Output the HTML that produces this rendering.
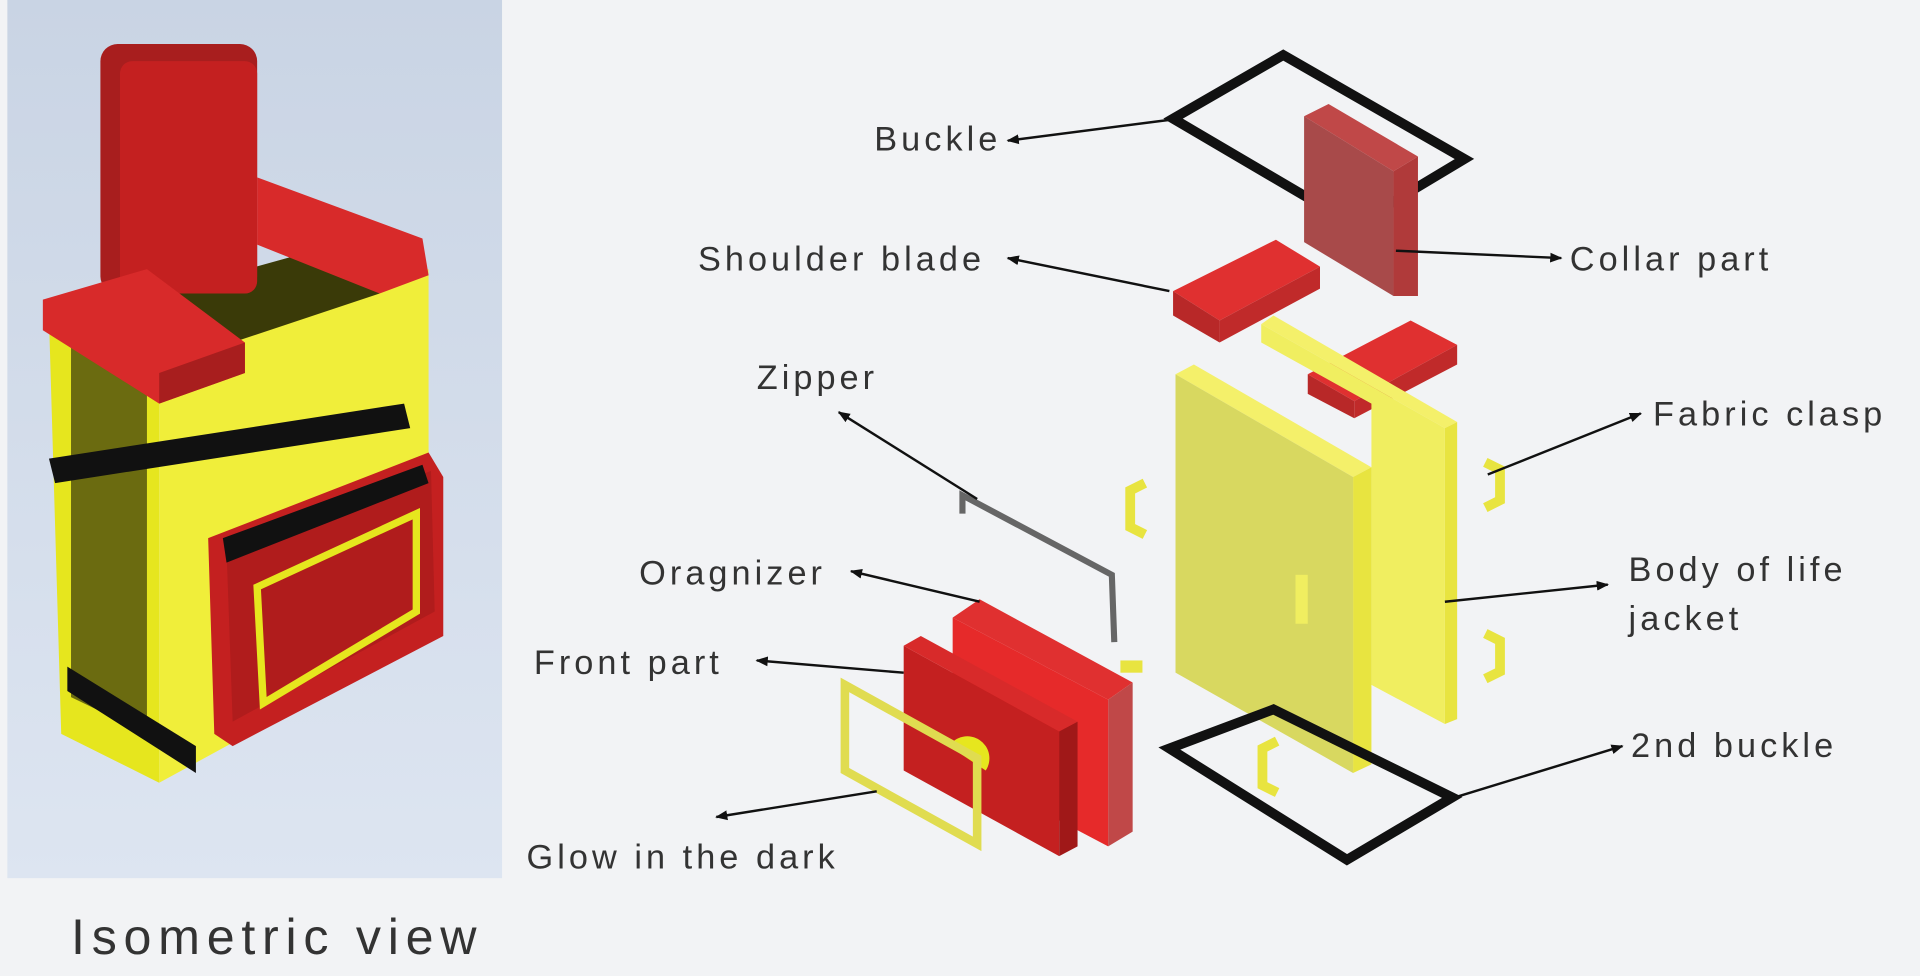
<!DOCTYPE html>
<html><head><style>
html,body{margin:0;padding:0;width:1920px;height:976px;overflow:hidden;background:#f2f3f5}
svg{display:block}
text{font-family:"Liberation Sans",sans-serif;fill:#333;letter-spacing:3.3px}
</style></head><body>
<svg width="1920" height="976" viewBox="0 0 1568 798" preserveAspectRatio="none">
<defs>
<linearGradient id="bg" x1="0" y1="0" x2="0" y2="1"><stop offset="0" stop-color="#c9d4e4"/><stop offset="1" stop-color="#dde5f1"/></linearGradient>
<marker id="ar" markerWidth="10" markerHeight="10" refX="9" refY="5" orient="auto" markerUnits="userSpaceOnUse"><path d="M0,1 L10,5 L0,9 z" fill="#111"/></marker>
</defs>
<rect x="0" y="0" width="1568" height="798" fill="#f2f3f5"/>
<rect x="6" y="0" width="404" height="718" fill="url(#bg)"/>
<!-- left isometric -->
<polygon points="40,260 130,300 130,640 50,600" fill="#e6e61e"/>
<polygon points="58,270 120,300 120,600 58,570" fill="#6b6b10"/>
<polygon points="130,300 350,220 350,520 130,640" fill="#f0ee3a"/>
<polygon points="130,240 310,190 310,240 130,300" fill="#3a3a08"/>
<rect x="82" y="36" width="128" height="204" rx="14" fill="#a81e1e"/>
<rect x="98" y="50" width="112" height="190" rx="10" fill="#c42020"/>
<polygon points="210,145 345,195 350,225 310,240 210,200" fill="#d82a2a"/>
<polygon points="35,245 120,220 200,280 200,305 130,330 35,270" fill="#d82a2a"/>
<polygon points="130,305 200,280 200,305 130,330" fill="#a81e1e"/>
<polygon points="40,375 330,330 335,350 45,395" fill="#111"/>
<polygon points="55,545 160,610 160,632 55,565" fill="#111"/>
<polygon points="170,440 350,370 362,390 362,520 190,610 175,600" fill="#c42020"/>
<polygon points="185,450 352,385 355,500 190,590" fill="#b01c1c"/>
<polygon points="210,480 340,420 340,500 215,575" fill="none" stroke="#e6e61e" stroke-width="6"/>
<polygon points="182,440 345,380 350,395 185,460" fill="#111"/>
<text x="58" y="780" font-size="41" style="letter-spacing:5.5px">Isometric view</text>
<!-- top buckle -->
<polygon points="958,97 1048,45 1196,130 1106,184" fill="none" stroke="#111" stroke-width="8"/>
<!-- collar -->
<polygon points="1065,95 1085,85 1158,128 1138,140" fill="#c04848"/>
<polygon points="1138,140 1158,128 1158,242 1138,242" fill="#b03a3a"/>
<polygon points="1065,95 1138,140 1138,242 1065,198" fill="#a84a4a"/>
<!-- shoulder blades -->
<polygon points="958,238 1042,196 1078,218 996,262" fill="#e03030"/>
<polygon points="958,238 996,262 996,280 958,258" fill="#b82828"/>
<polygon points="996,262 1078,218 1078,236 996,280" fill="#c02a2a"/>
<polygon points="1068,306 1152,262 1190,282 1106,328" fill="#e03030"/>
<polygon points="1068,306 1106,328 1106,342 1068,322" fill="#b82828"/>
<polygon points="1106,328 1190,282 1190,298 1106,342" fill="#c02a2a"/>
<!-- body panels -->
<polygon points="1030,265 1040,258 1190,345 1180,350" fill="#f4f06a"/>
<polygon points="1180,350 1190,345 1190,588 1180,592" fill="#e8e440"/>
<polygon points="1030,265 1180,350 1180,592 1120,560 1120,330 1030,280" fill="#f0ee60"/>
<polygon points="960,306 975,298 1120,382 1105,390" fill="#f4f06a"/>
<polygon points="1105,390 1120,382 1120,625 1105,632" fill="#e8e440"/>
<polygon points="960,306 1105,390 1105,632 960,550" fill="#d8d860"/>
<rect x="1058" y="470" width="10" height="40" fill="#f0ee60"/>
<!-- clasps -->
<path d="M935,395 l-12,6 v30 l12,6" fill="none" stroke="#e8e440" stroke-width="8"/>
<path d="M1213,378 l12,6 v25 l-12,6" fill="none" stroke="#e8e440" stroke-width="8"/>
<path d="M1213,518 l12,6 v25 l-12,6" fill="none" stroke="#e8e440" stroke-width="8"/>
<path d="M1043,606 l-12,6 v30 l12,6" fill="none" stroke="#e8e440" stroke-width="8"/>
<rect x="915" y="540" width="18" height="10" fill="#e8e440"/>
<!-- bottom buckle -->
<polygon points="955,612 1040,580 1186,652 1100,703" fill="none" stroke="#111" stroke-width="8"/>
<!-- zipper -->
<polyline points="786,420 786,405 908,470 910,525" fill="none" stroke="#666" stroke-width="5"/>
<!-- organizer -->
<polygon points="778,505 800,490 925,558 905,572" fill="#e03030"/>
<polygon points="905,572 925,558 925,680 905,692" fill="#c04848"/>
<polygon points="778,505 905,572 905,692 778,625" fill="#e62a2a"/>
<!-- front part -->
<polygon points="738,528 865,598 865,700 738,630" fill="#c42020"/>
<polygon points="865,598 880,590 880,692 865,700" fill="#a01818"/>
<polygon points="738,528 752,520 880,590 865,598" fill="#d82a2a"/>
<path d="M775,610 a18,18 0 0 1 30,20 z" fill="#e6e61e"/>
<!-- glow -->
<polygon points="690,560 798,620 798,690 690,630" fill="none" stroke="#e0dc50" stroke-width="7"/>
<!-- labels + arrows -->
<g stroke="#111" stroke-width="2" fill="none">
<line x1="955" y1="98" x2="823" y2="115" marker-end="url(#ar)"/>
<line x1="1140" y1="205" x2="1275" y2="211" marker-end="url(#ar)"/>
<line x1="955" y1="238" x2="823" y2="211" marker-end="url(#ar)"/>
<line x1="798" y1="408" x2="685" y2="337" marker-end="url(#ar)"/>
<line x1="1215" y1="388" x2="1340" y2="338" marker-end="url(#ar)"/>
<line x1="1180" y1="492" x2="1313" y2="478" marker-end="url(#ar)"/>
<line x1="800" y1="492" x2="695" y2="467" marker-end="url(#ar)"/>
<line x1="738" y1="550" x2="618" y2="540" marker-end="url(#ar)"/>
<line x1="1188" y1="652" x2="1325" y2="610" marker-end="url(#ar)"/>
<line x1="716" y1="647" x2="585" y2="668" marker-end="url(#ar)"/>
</g>
<g font-size="28">
<text x="714" y="123">Buckle</text>
<text x="1282" y="221">Collar part</text>
<text x="570" y="221">Shoulder blade</text>
<text x="618" y="318">Zipper</text>
<text x="1350" y="348">Fabric clasp</text>
<text x="1330" y="475">Body of life</text>
<text x="1330" y="515">jacket</text>
<text x="522" y="478">Oragnizer</text>
<text x="436" y="551">Front part</text>
<text x="1332" y="619">2nd buckle</text>
<text x="430" y="710">Glow in the dark</text>
</g>
</svg>
</body></html>
